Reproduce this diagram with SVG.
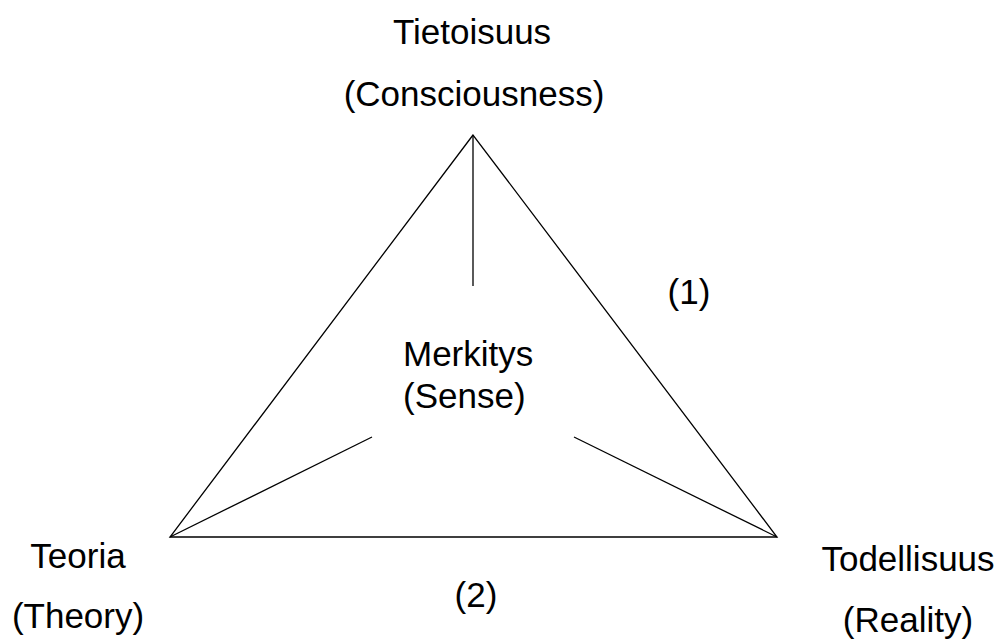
<svg xmlns="http://www.w3.org/2000/svg" width="1002" height="641" viewBox="0 0 1002 641">
<style>
.t{font-family:"Liberation Sans",Arial,sans-serif;font-size:35px;fill:#000}
.c{text-anchor:middle}
.l{stroke:#000;stroke-width:1.3;fill:none}
</style>
<rect width="1002" height="641" fill="#fff"/>
<g id="connectors">
<polygon class="l" points="473,135 170,537 777,537"/>
<line class="l" x1="473" y1="135" x2="473" y2="286"/>
<line class="l" x1="170" y1="537" x2="372" y2="437"/>
<line class="l" x1="777" y1="537" x2="574" y2="437"/>
</g>
<g id="consciousness">
<text class="t c" x="472" y="44">Tietoisuus</text>
<text class="t c" x="474" y="106">(Consciousness)</text>
</g>
<g id="theory">
<text class="t c" x="78" y="568">Teoria</text>
<text class="t c" x="78" y="628">(Theory)</text>
</g>
<g id="reality">
<text class="t c" x="908" y="571">Todellisuus</text>
<text class="t c" x="908" y="632">(Reality)</text>
</g>
<g id="sense">
<text class="t" x="403" y="366">Merkitys</text>
<text class="t" x="403" y="408">(Sense)</text>
</g>
<g id="label1">
<text class="t c" x="689" y="304">(1)</text>
</g>
<g id="label2">
<text class="t c" x="476" y="607">(2)</text>
</g>
</svg>
